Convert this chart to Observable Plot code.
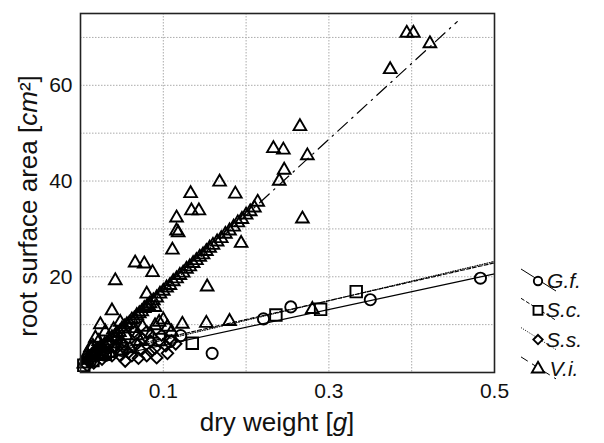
<!DOCTYPE html>
<html><head><meta charset="utf-8">
<script src="https://cdn.jsdelivr.net/npm/d3@7"></script>
<script src="https://cdn.jsdelivr.net/npm/@observablehq/plot@0.6"></script>
<style>
body{margin:0;background:#fff;}
#chart{width:604px;height:443px;}
</style></head><body><div id="chart"></div>
<script>
// ---- data ----
const seriesNames = ["G.f.", "S.c.", "S.s.", "V.i."];
const xTicks = [0.1, 0.3, 0.5];
const yTicks = [20, 40, 60];
const xGrid = [0.1, 0.2, 0.3, 0.4];
const yGrid = [10, 20, 30, 40, 50, 60, 70];

const gfX = [0.483, 0.350, 0.254, 0.221, 0.159, 0.121, 0.108, 0.012, 0.030, 0.050];
const gfY = [19.7, 15.2, 13.7, 11.2, 4.0, 7.7, 6.5, 2.4, 3.6, 4.6];

const scX = [0.333, 0.290, 0.236, 0.135, 0.095, 0.004, 0.015, 0.030, 0.050];
const scY = [16.9, 13.2, 12.0, 6.1, 6.9, 1.5, 2.5, 3.8, 5.0];

const ssX = [0.080, 0.068, 0.090, 0.103, 0.058, 0.048, 0.110, 0.038, 0.026, 0.080, 0.092, 0.054, 0.062, 0.016, 0.008, 0.030, 0.042, 0.020, 0.010, 0.072,
  0.035, 0.045, 0.065, 0.075, 0.085, 0.098, 0.105, 0.115, 0.012, 0.024, 0.050, 0.070, 0.085];
const ssY = [8.5, 6.0, 5.1, 5.6, 4.2, 3.5, 6.6, 3.5, 2.8, 3.5, 3.1, 2.4, 3.5, 2.0, 1.5, 4.5, 5.5, 5.0, 3.5, 4.8,
  6.0, 7.0, 8.5, 7.0, 6.5, 7.8, 4.0, 6.0, 2.8, 4.0, 6.2, 3.0, 4.4];

const viX = [0.394, 0.402, 0.422, 0.374, 0.265, 0.274, 0.233, 0.245, 0.246, 0.240, 0.168, 0.133, 0.187, 0.134, 0.143, 0.116, 0.116, 0.118, 0.111, 0.268, 0.194, 0.153, 0.066, 0.077, 0.087, 0.042, 0.038, 0.024, 0.123, 0.152, 0.180, 0.280, 0.080, 0.082, 0.090,
  0.012, 0.018, 0.030, 0.045, 0.055, 0.068, 0.075, 0.060, 0.035, 0.090, 0.100,
  0.008, 0.015, 0.022, 0.028, 0.040, 0.048, 0.052, 0.065, 0.072, 0.085, 0.095, 0.105, 0.110,
  0.004, 0.008, 0.011, 0.014, 0.017, 0.020, 0.023, 0.026, 0.029, 0.032, 0.035, 0.038, 0.041, 0.044, 0.047, 0.050, 0.053, 0.056, 0.059, 0.062, 0.065, 0.068, 0.071, 0.074, 0.077, 0.080, 0.084, 0.088, 0.092, 0.096, 0.100, 0.104, 0.108, 0.112, 0.116, 0.120, 0.124, 0.128, 0.132, 0.136, 0.140, 0.144, 0.148, 0.152, 0.156, 0.160, 0.165, 0.170, 0.175, 0.180, 0.185, 0.190, 0.195, 0.200, 0.205, 0.210, 0.214];
const viY = [70.9, 70.9, 68.7, 63.3, 51.4, 45.3, 46.8, 46.5, 42.3, 40.0, 39.8, 37.4, 37.3, 33.8, 33.8, 32.3, 29.6, 29.2, 25.6, 32.1, 27.0, 17.9, 22.9, 22.7, 20.9, 19.2, 12.9, 10.0, 10.1, 10.3, 10.7, 13.2, 16.4, 14.0, 13.6,
  5.2, 7.2, 8.5, 6.0, 7.7, 7.7, 9.5, 5.0, 4.0, 9.8, 11.0,
  3.8, 5.5, 6.5, 3.8, 9.0, 10.5, 5.5, 9.2, 6.5, 8.0, 10.5, 9.5, 8.5,
  1.8, 2.6, 3.0, 3.4, 4.0, 4.3, 4.9, 5.1, 5.8, 6.2, 6.6, 7.3, 7.5, 8.2, 8.4, 9.1, 9.5, 10.0, 10.3, 11.0, 11.2, 11.9, 12.3, 12.7, 13.4, 13.7, 14.4, 15.0, 15.6, 16.4, 17.0, 17.7, 18.2, 19.0, 19.6, 20.3, 20.8, 21.6, 22.1, 22.8, 23.4, 24.1, 24.6, 25.3, 26.0, 26.6, 27.3, 28.0, 28.9, 29.6, 30.4, 31.3, 32.0, 32.9, 33.6, 34.4, 35.6];

// fitted lines (end points)
const fitX = [0, 0.5];
const gfFitY = [2.0, 20.6];
const scFitY = [3.2, 22.9];
const ssFitY = [2.7, 23.2];
const viFitX = [0.004, 0.455];
const viFitY = [1.8, 73.3];

// ---- build tables ----
const pts = (xs, ys) => xs.map((x, i) => ({x, y: ys[i]}));
const gf = pts(gfX, gfY), sc = pts(scX, scY), ss = pts(ssX, ssY), vi = pts(viX, viY);
const gfLine = pts(fitX, gfFitY), scLine = pts(fitX, scFitY), ssLine = pts(fitX, ssFitY), viLine = pts(viFitX, viFitY);

const FONT = "'Liberation Sans', Arial, sans-serif";
const dotStyle = {x: "x", y: "y", stroke: "#000", strokeWidth: 1.9, fill: "none"};

const svg = Plot.plot({
  width: 604, height: 443,
  marginLeft: 80, marginRight: 110, marginTop: 13, marginBottom: 71,
  style: {fontFamily: FONT, fontSize: "21px", color: "#111", background: "#fff", overflow: "visible"},
  x: {domain: [0, 0.5], label: null},
  y: {domain: [0, 75], label: null},
  marks: [
    Plot.gridX(xGrid, {stroke: "#ababab", strokeOpacity: 1, strokeDasharray: "1.5,1.5"}),
    Plot.gridY(yGrid, {stroke: "#ababab", strokeOpacity: 1, strokeDasharray: "1.5,1.5"}),
    Plot.axisX(xTicks, {tickSize: 0, tickPadding: 11, tickFormat: d => String(d), fontSize: 21}),
    Plot.axisY(yTicks, {tickSize: 0, tickPadding: 8, fontSize: 21}),
    Plot.line(gfLine, {x: "x", y: "y", stroke: "#000", strokeWidth: 1.1}),
    Plot.line(scLine, {x: "x", y: "y", stroke: "#000", strokeWidth: 1.1, strokeDasharray: "4,2"}),
    Plot.line(ssLine, {x: "x", y: "y", stroke: "#000", strokeWidth: 1.1, strokeDasharray: "1,1.5"}),
    Plot.line(viLine, {x: "x", y: "y", stroke: "#000", strokeWidth: 1.2, strokeDasharray: "13,6,1.5,6", clip: true}),
    Plot.dot(ss, {...dotStyle, symbol: "diamond2", r: 5.2}),
    Plot.dot(gf, {...dotStyle, symbol: "circle", r: 5.6}),
    Plot.dot(sc, {...dotStyle, symbol: "square", r: 6.5}),
    Plot.dot(vi, {...dotStyle, symbol: "triangle", r: 4.7}),
    Plot.frame({stroke: "#222", strokeWidth: 1.6})
  ]
});
document.getElementById("chart").appendChild(svg);

// ---- axis titles with italic units ----
const s = d3.select(svg);
const yl = s.append("text")
  .attr("transform", "translate(37,206) rotate(-90)")
  .attr("text-anchor", "middle")
  .attr("font-family", FONT).attr("font-size", 26).attr("fill", "#111");
yl.append("tspan").text("root surface area [");
yl.append("tspan").attr("font-style", "italic").text("cm");
yl.append("tspan").text("²]");

const xl = s.append("text")
  .attr("x", 277).attr("y", 431)
  .attr("text-anchor", "middle")
  .attr("font-family", FONT).attr("font-size", 26).attr("fill", "#111");
xl.append("tspan").text("dry weight [");
xl.append("tspan").attr("font-style", "italic").text("g");
xl.append("tspan").text("]");

// ---- legend (right of frame) ----
const legendDash = [null, "4,2", "1,1.5", "8,5"];
const legendSym = [d3.symbolCircle, d3.symbolSquare, d3.symbolDiamond2, d3.symbolTriangle];
const legendSize = [55, 80, 55, 65];
const lg = s.append("g");
seriesNames.forEach((name, i) => {
  const cy = 281 + i * 29.3;
  const g = lg.append("g").attr("transform", `translate(538,${cy})`);
  g.append("line").attr("x1", -17).attr("y1", -12).attr("x2", 18).attr("y2", 10)
    .attr("stroke", "#000").attr("stroke-width", 1)
    .attr("stroke-dasharray", legendDash[i]);
  g.append("path").attr("d", d3.symbol(legendSym[i], legendSize[i])())
    .attr("fill", "#fff").attr("stroke", "#000").attr("stroke-width", 1.9);
  g.append("text").attr("x", 26).attr("y", 7)
    .attr("font-family", FONT).attr("font-size", 21).attr("font-style", "italic").attr("fill", "#111")
    .text(name);
});
</script></body></html>
